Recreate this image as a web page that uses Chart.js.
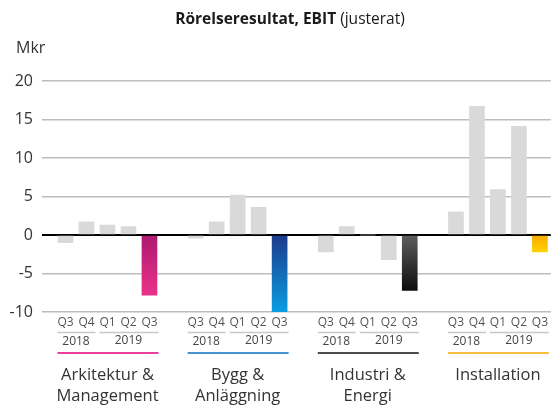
<!DOCTYPE html>
<html>
<head>
<meta charset="utf-8">
<script src="https://cdn.jsdelivr.net/npm/chart.js@4/dist/chart.umd.min.js"></script>
<style>
  html, body { margin: 0; padding: 0; background: #fff; }
  #wrap { width: 551px; height: 405px; position: relative; }
</style>
</head>
<body>
<div id="wrap"><canvas id="ebitChart"></canvas></div>
<script>
// data
const groupNames = [['Arkitektur &', 'Management'], ['Bygg &', 'Anläggning'], ['Industri &', 'Energi'], ['Installation']];
const quarters = ['Q3', 'Q4', 'Q1', 'Q2', 'Q3'];
const years = ['2018', '2019'];
const yTicks = [-10, -5, 0, 5, 10, 15, 20];
const arkitektur = [-1.0, 1.7, 1.3, 1.1, -7.8];
const bygg = [-0.4, 1.7, 5.2, 3.6, -10.0];
const industri = [-2.2, 1.1, 0, -3.2, -7.2];
const installation = [3.0, 16.7, 5.9, 14.1, -2.2];

const series = [arkitektur, bygg, industri, installation];
const accent = [
    ['#ad1a70', '#ea3189', '#e6007e'],
    ['#1d3a8c', '#0a9de0', '#0a6fc2'],
    ['#5e5e5e', '#0d0d0d', '#111111'],
    ['#f7aa00', '#ffd200', '#f5a800']
];
const GROUP_STEP = 6.2;
const FONT = "'Open Sans', 'Noto Sans', sans-serif";

function xPos(g, i) { return g * GROUP_STEP + i; }

const points = [];
series.forEach((vals, g) => {
    vals.forEach((v, i) => points.push({ x: xPos(g, i), y: v, g: g, i: i }));
});

function barColor(ctx) {
    const p = ctx.raw;
    if (!p) return '#d9d9d9';
    if (p.i !== 4) return '#d9d9d9';
    const chart = ctx.chart;
    const ys = chart.scales.y;
    if (!ys || !chart.chartArea) return accent[p.g][0];
    const y0 = ys.getPixelForValue(0);
    const y1 = ys.getPixelForValue(p.y);
    const grad = chart.ctx.createLinearGradient(0, Math.min(y0, y1), 0, Math.max(y0, y1));
    grad.addColorStop(0, accent[p.g][0]);
    grad.addColorStop(1, accent[p.g][1]);
    return grad;
}

const decorations = {
    id: 'decorations',
    afterDraw(chart) {
        const c = chart.ctx;
        const xs = chart.scales.x;
        c.save();
        // title
        c.textBaseline = 'middle';
        c.fillStyle = '#1a1a1a';
        const boldPart = 'Rörelseresultat, EBIT';
        const lightPart = ' (justerat)';
        c.font = 'bold 15.5px ' + FONT;
        const w1 = c.measureText(boldPart).width;
        c.font = '15.5px ' + FONT;
        const w2 = c.measureText(lightPart).width;
        const start = 290 - (w1 + w2) / 2;
        c.textAlign = 'left';
        c.font = 'bold 15.5px ' + FONT;
        c.fillText(boldPart, start, 20);
        c.font = '15.5px ' + FONT;
        c.fillText(lightPart, start + w1, 20);
        // unit
        c.fillStyle = '#333';
        c.font = '16px ' + FONT;
        c.fillText('Mkr', 16, 48);

        groupNames.forEach((names, g) => {
            const px = i => xs.getPixelForValue(xPos(g, i));
            // year underlines
            c.strokeStyle = '#c8c8c8';
            c.lineWidth = 1.5;
            c.beginPath();
            c.moveTo(px(0) - 8, 332.5); c.lineTo(px(1) + 9, 332.5);
            c.moveTo(px(2) - 8, 332.5); c.lineTo(px(4) + 9, 332.5);
            c.stroke();
            // years
            c.fillStyle = '#444';
            c.font = '12px ' + FONT;
            c.textAlign = 'center';
            c.fillText(years[0], (px(0) + px(1)) / 2, 342);
            c.fillText(years[1], (px(2) + px(4)) / 2, 341);
            // coloured group line
            c.strokeStyle = accent[g][2];
            c.lineWidth = 1.5;
            c.beginPath();
            c.moveTo(px(0) - 8, 353); c.lineTo(px(4) + 9, 353);
            c.stroke();
            // group name
            c.fillStyle = '#333';
            c.font = '16.5px ' + FONT;
            const cx = (px(0) + px(4)) / 2;
            names.forEach((n, k) => c.fillText(n, cx, 375 + k * 21));
        });
        c.restore();
    }
};

new Chart(document.getElementById('ebitChart'), {
    type: 'bar',
    data: {
        datasets: [{
            data: points,
            backgroundColor: barColor,
            barThickness: 15,
            borderWidth: 0
        }]
    },
    options: {
        responsive: true,
        maintainAspectRatio: false,
        animation: false,
        layout: { padding: { top: 81, left: 0, right: 0, bottom: 0 } },
        plugins: { legend: { display: false }, tooltip: { enabled: false } },
        scales: {
            x: {
                type: 'linear',
                offset: false,
                min: -1.12,
                max: 23.12,
                grid: { display: false, drawTicks: false },
                border: { display: false },
                afterBuildTicks(scale) {
                    const t = [];
                    series.forEach((vals, g) => vals.forEach((v, i) => t.push({ value: xPos(g, i) })));
                    scale.ticks = t;
                },
                ticks: {
                    autoSkip: false,
                    maxRotation: 0,
                    padding: 3,
                    color: '#555',
                    font: { family: FONT, size: 12 },
                    callback(value, index) { return quarters[index % 5]; }
                },
                afterFit(scale) { scale.height = 93; }
            },
            y: {
                min: -10,
                max: 20,
                afterBuildTicks(scale) { scale.ticks = yTicks.map(v => ({ value: v })); },
                grid: {
                    drawTicks: false,
                    color: ctx => ctx.tick && ctx.tick.value === 0 ? '#000' : '#bdbdbd',
                    lineWidth: ctx => ctx.tick && ctx.tick.value === 0 ? 2 : 1.5
                },
                border: { display: false },
                ticks: {
                    padding: 9,
                    color: '#333',
                    font: { family: FONT, size: 16 }
                },
                afterFit(scale) { scale.width = 42; }
            }
        }
    },
    plugins: [decorations]
});
</script>
</body>
</html>
